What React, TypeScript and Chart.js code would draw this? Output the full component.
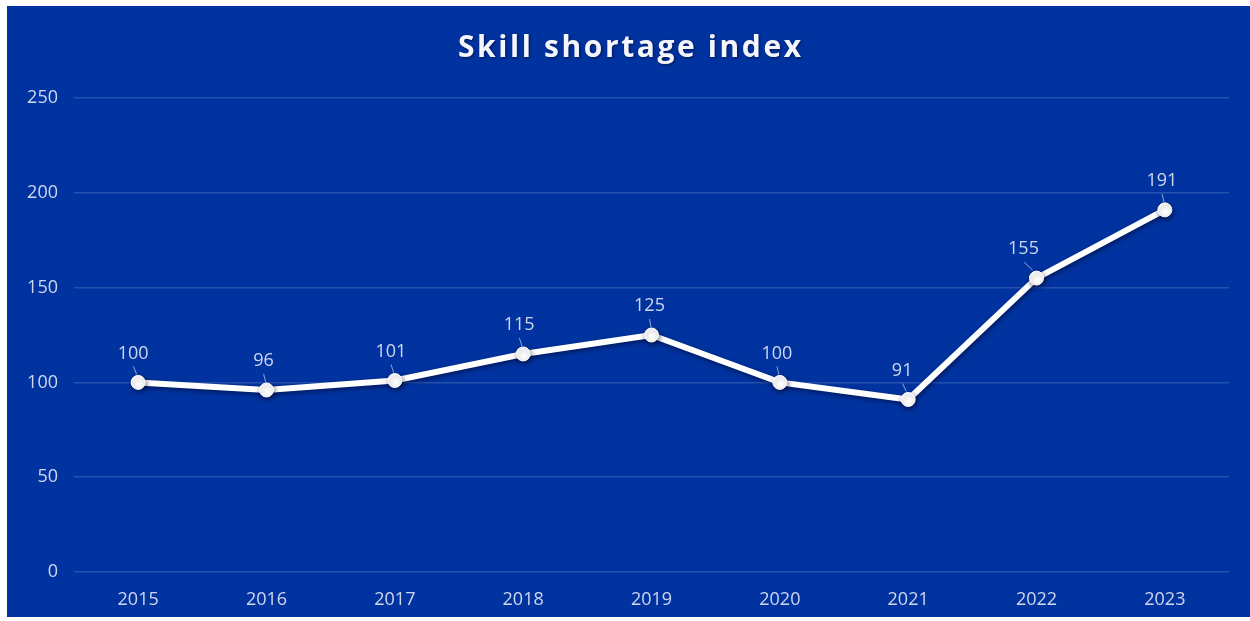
import React, { useEffect, useRef } from "react";
import { Chart, registerables } from "chart.js";

Chart.register(...registerables);

const years = ["2015", "2016", "2017", "2018", "2019", "2020", "2021", "2022", "2023"];
const shortageIndex = [100, 96, 101, 115, 125, 100, 91, 155, 191];
const labelShiftX = [-5, -3, -4, -4, -2, -3, -6, -13, -3];
const titleText = "Skill shortage index";

const BG = "#0033a0";
const TEXT = "#cfd7ee";
const FONT = "'Open Sans', 'DejaVu Sans', sans-serif";

const bgPlugin = {
  id: "bgFill",
  beforeDraw(chart: any) {
    const { ctx, width, height } = chart;
    ctx.save();
    ctx.fillStyle = BG;
    ctx.fillRect(0, 0, width, height);
    ctx.restore();
  },
};

const titlePlugin = {
  id: "spacedTitle",
  afterDraw(chart: any) {
    const ctx = chart.ctx;
    ctx.save();
    ctx.font = `bold 30px ${FONT}`;
    (ctx as any).letterSpacing = "2.6px";
    ctx.textAlign = "center";
    ctx.textBaseline = "middle";
    ctx.shadowColor = "rgba(0,0,40,0.6)";
    ctx.shadowBlur = 3;
    ctx.shadowOffsetX = 1;
    ctx.shadowOffsetY = 1;
    ctx.fillStyle = "#f4f6fb";
    ctx.fillText(titleText, chart.width / 2 + 2.3, 42);
    ctx.restore();
  },
};

const shadowPlugin = {
  id: "lineShadow",
  beforeDatasetDraw(chart: any) {
    const ctx = chart.ctx;
    ctx.save();
    ctx.shadowColor = "rgba(0,0,30,0.55)";
    ctx.shadowBlur = 5;
    ctx.shadowOffsetX = 1;
    ctx.shadowOffsetY = 2;
  },
  afterDatasetDraw(chart: any) {
    chart.ctx.restore();
  },
};

const labelPlugin = {
  id: "pointLabels",
  afterDatasetsDraw(chart: any) {
    const ctx = chart.ctx;
    const meta = chart.getDatasetMeta(0);
    const data = chart.data.datasets[0].data;
    ctx.save();
    ctx.font = `18px ${FONT}`;
    ctx.fillStyle = TEXT;
    ctx.textAlign = "center";
    ctx.textBaseline = "middle";
    meta.data.forEach((pt: any, i: number) => {
      const dx = labelShiftX[i] || 0;
      const lx = pt.x + dx;
      const ly = pt.y - 29;
      ctx.fillText(String(data[i]), lx, ly);
      ctx.strokeStyle = "rgba(190,200,230,0.75)";
      ctx.lineWidth = 1;
      const sx = lx + (pt.x - lx) * 0.05;
      const sy = ly + 13;
      const ex = lx + (pt.x - lx) * 0.7;
      const ey = pt.y - 8;
      ctx.beginPath();
      ctx.moveTo(sx, sy);
      ctx.lineTo(ex, ey);
      ctx.stroke();
    });
    ctx.restore();
  },
};

export default function App() {
  const canvasRef = useRef<HTMLCanvasElement | null>(null);

  useEffect(() => {
    if (!canvasRef.current) return;
    const chart = new Chart(canvasRef.current, {
      type: "line",
      data: {
        labels: years,
        datasets: [
          {
            label: titleText,
            data: shortageIndex,
            borderColor: "#ffffff",
            borderWidth: 6,
            pointBackgroundColor: "#ffffff",
            pointBorderColor: "#ffffff",
            pointRadius: 7,
            pointBorderWidth: 1,
            tension: 0,
          },
        ],
      },
      options: {
        responsive: false,
        animation: false,
        layout: { padding: { top: 92, right: 21, bottom: 0, left: 0 } },
        plugins: {
          legend: { display: false },
          tooltip: { enabled: false },
          title: { display: false },
        },
        scales: {
          x: {
            offset: true,
            grid: { display: false, drawTicks: false },
            border: { display: false },
            ticks: {
              color: TEXT,
              font: { family: FONT, size: 18 },
              padding: 17,
              maxRotation: 0,
            },
            afterFit(scale: any) {
              scale.height = 45;
            },
          },
          y: {
            min: 0,
            max: 250,
            ticks: {
              stepSize: 50,
              color: TEXT,
              font: { family: FONT, size: 18 },
              padding: 16,
            },
            grid: {
              color: "rgba(255,255,255,0.15)",
              lineWidth: 1.5,
              drawTicks: false,
            },
            border: { display: false },
            afterFit(scale: any) {
              scale.width = 67;
            },
          },
        },
      },
      plugins: [bgPlugin, shadowPlugin, labelPlugin, titlePlugin],
    });
    return () => chart.destroy();
  }, []);

  return (
    <div style={{ position: "absolute", left: 7, top: 6, width: 1243, height: 611, background: BG }}>
      <canvas ref={canvasRef} width={1243} height={611} style={{ display: "block" }} />
    </div>
  );
}
